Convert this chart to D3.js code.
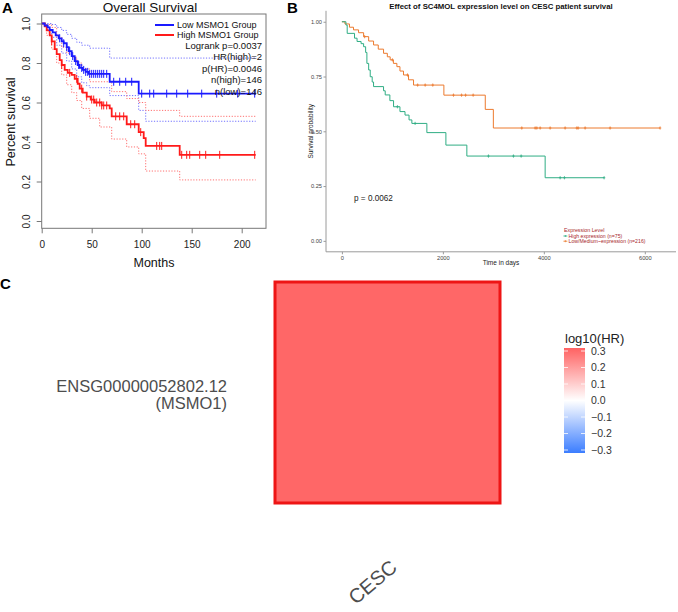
<!DOCTYPE html>
<html><head><meta charset="utf-8">
<script src="https://cdn.jsdelivr.net/npm/d3@7"></script>
<style>body{margin:0;background:#fff;} text{font-family:"Liberation Sans",Arial,sans-serif;}</style>
</head><body><svg id="c" width="678" height="612"></svg>
<script>
// ---------- Panel A data (GEPIA, months) ----------
const lowTimes = [0, 3, 6, 8, 11, 14, 17, 20, 22, 25, 27, 30, 33, 36, 38, 41, 44, 47, 68, 97];
const lowSurv  = [1.0, 0.99, 0.98, 0.967, 0.955, 0.94, 0.925, 0.91, 0.90, 0.88, 0.86, 0.835, 0.81, 0.79, 0.775, 0.765, 0.755, 0.745, 0.705, 0.645];
const lowEnd = 214;
const highTimes = [0, 3, 5, 8, 10, 13, 15, 18, 20, 23, 26, 30, 33, 36, 38, 41, 45, 49, 53, 60, 68, 70, 85, 97, 102, 104, 138];
const highSurv  = [1.0, 0.985, 0.965, 0.94, 0.91, 0.87, 0.845, 0.815, 0.79, 0.765, 0.75, 0.74, 0.72, 0.695, 0.67, 0.65, 0.63, 0.615, 0.60, 0.585, 0.57, 0.53, 0.49, 0.45, 0.42, 0.38, 0.335];
const highEnd = 214;
const lowUpT = [0, 5, 10, 15, 20, 25, 30, 35, 40, 48, 68];
const lowUpV = [1.0, 1.0, 0.995, 0.98, 0.965, 0.945, 0.925, 0.905, 0.89, 0.875, 0.825];
const lowLoT = [0, 5, 10, 15, 20, 25, 30, 35, 40, 45, 48, 68, 97, 104];
const lowLoV = [1.0, 0.97, 0.93, 0.89, 0.85, 0.81, 0.77, 0.73, 0.70, 0.685, 0.675, 0.635, 0.56, 0.505];
const highUpT = [0, 5, 10, 15, 20, 25, 30, 35, 40, 48, 70, 85, 97, 104, 138];
const highUpV = [1.0, 0.995, 0.98, 0.93, 0.88, 0.85, 0.83, 0.80, 0.77, 0.705, 0.655, 0.62, 0.60, 0.56, 0.53];
const highLoT = [0, 5, 10, 15, 20, 25, 30, 35, 40, 48, 58, 70, 85, 97, 104, 138];
const highLoV = [1.0, 0.94, 0.87, 0.80, 0.74, 0.69, 0.65, 0.61, 0.57, 0.52, 0.476, 0.415, 0.375, 0.34, 0.253, 0.208];
const lowCensor = [18, 22, 25, 28, 31, 34, 37, 40, 42, 44, 46, 48, 50, 52, 54, 56, 58, 60, 62, 65, 72, 78, 84, 90, 100, 108, 112, 125, 135, 146, 160, 175, 196, 213];
const highCensor = [10, 20, 28, 35, 40, 45, 50, 52, 55, 58, 60, 62, 65, 74, 78, 82, 89, 93, 99, 115, 118, 120, 140, 145, 148, 158, 164, 178, 213];
const yTicksA = [0, 0.2, 0.4, 0.6, 0.8, 1.0];
const xTicksA = [0, 50, 100, 150, 200];
const legendA = ["Low MSMO1 Group", "High MSMO1 Group"];
const statsA = ["Logrank p=0.0037", "HR(high)=2", "p(HR)=0.0046", "n(high)=146", "n(low)=146"];

// ---------- Panel B data (days) ----------
const hiDays = [0, 80, 105, 250, 300, 380, 430, 470, 495, 530, 561, 600, 627, 825, 858, 950, 1023, 1150, 1250, 1330, 1386, 1683, 2060, 2475, 4026];
const hiVals = [1.0, 0.985, 0.947, 0.925, 0.91, 0.90, 0.886, 0.86, 0.81, 0.78, 0.749, 0.725, 0.704, 0.685, 0.666, 0.64, 0.612, 0.59, 0.574, 0.552, 0.536, 0.494, 0.437, 0.387, 0.288];
const hiEnd = 5194;
const lmDays = [0, 60, 150, 230, 330, 430, 530, 627, 720, 825, 900, 956, 1020, 1089, 1150, 1220, 1320, 1419, 2020, 2840, 3000];
const lmVals = [1.0, 0.99, 0.975, 0.963, 0.95, 0.932, 0.912, 0.894, 0.875, 0.856, 0.84, 0.826, 0.81, 0.795, 0.775, 0.757, 0.735, 0.711, 0.665, 0.60, 0.515];
const lmEnd = 6303;
const hiCensor = [1100, 1450, 2903, 3398, 3551, 4323, 4408, 5194];
const lmCensor = [450, 1000, 1300, 1500, 1650, 1800, 2210, 2370, 2450, 2600, 3563, 3828, 3861, 3927, 4125, 4422, 4653, 4680, 4818, 5313, 6303];
const yTicksB = [0, 0.25, 0.5, 0.75, 1.0];
const xTicksB = [0, 2000, 4000, 6000];
const legendB = ["High expression (n=75)", "Low/Medium~expression (n=216)"];

// ---------- Panel C data ----------
const genes = ["ENSG00000052802.12"];
const geneSub = ["(MSMO1)"];
const cancers = ["CESC"];
const hrValues = [0.29];
const cbTicks = [0.3, 0.2, 0.1, 0.0, -0.1, -0.2, -0.3];

const svg = d3.select("#c");
svg.append("rect").attr("width", 678).attr("height", 612).attr("fill", "#fff");

function stepPts(t, v, end) { const p = t.map((d, i) => [d, v[i]]); p.push([end, v[v.length - 1]]); return p; }
function survAt(t, v, x) { let k = 0; for (let i = 0; i < t.length; i++) if (t[i] <= x) k = i; return v[k]; }

// ================= Panel A =================
const xA = d3.scaleLinear().domain([0, 200]).range([41.7, 241.7]);
const yA = d3.scaleLinear().domain([0, 1]).range([221, 23.5]);
const lineA = d3.line().x(d => xA(d[0])).y(d => yA(d[1])).curve(d3.curveStepAfter);
const gA = svg.append("g");
const blue = "#1a1aff", red = "#ff1a1a";

[[lowUpT, lowUpV, lowEnd, "#7070ff"], [lowLoT, lowLoV, lowEnd, "#7070ff"], [highUpT, highUpV, highEnd, "#ff7070"], [highLoT, highLoV, highEnd, "#ff7070"]].forEach(c => {
  gA.append("path").attr("d", lineA(stepPts(c[0], c[1], c[2]))).attr("fill", "none").attr("stroke", c[3]).attr("stroke-width", 1).attr("stroke-dasharray", "1.2,1.6");
});
gA.append("path").attr("d", lineA(stepPts(highTimes, highSurv, highEnd))).attr("fill", "none").attr("stroke", red).attr("stroke-width", 1.8);
gA.append("path").attr("d", lineA(stepPts(lowTimes, lowSurv, lowEnd))).attr("fill", "none").attr("stroke", blue).attr("stroke-width", 1.8);
gA.selectAll(".cl").data(lowCensor).join("line").attr("x1", d => xA(d)).attr("x2", d => xA(d))
  .attr("y1", d => yA(survAt(lowTimes, lowSurv, d)) - 4).attr("y2", d => yA(survAt(lowTimes, lowSurv, d)) + 4).attr("stroke", blue).attr("stroke-width", 1);
gA.selectAll(".ch").data(highCensor).join("line").attr("x1", d => xA(d)).attr("x2", d => xA(d))
  .attr("y1", d => yA(survAt(highTimes, highSurv, d)) - 4).attr("y2", d => yA(survAt(highTimes, highSurv, d)) + 4).attr("stroke", red).attr("stroke-width", 1);

gA.append("rect").attr("x", 41.7).attr("y", 14).attr("width", 224.3).attr("height", 214.3).attr("fill", "none").attr("stroke", "#777").attr("stroke-width", 1);

const ayA = gA.append("g").attr("transform", "translate(41.7,0)")
  .call(d3.axisLeft(yA).tickValues(yTicksA).tickFormat(d3.format(".1f")).tickSize(5));
ayA.select(".domain").remove();
ayA.selectAll("line").attr("stroke", "#777");
ayA.selectAll("text").attr("x", 0).attr("dy", null).attr("y", 0).attr("text-anchor", "middle")
  .attr("transform", "translate(-11.5,0) rotate(-90)").attr("font-size", 10).attr("fill", "#222").attr("font-family", null);
const axA = gA.append("g").attr("transform", "translate(0,228.3)")
  .call(d3.axisBottom(xA).tickValues(xTicksA).tickSize(5).tickPadding(8));
axA.select(".domain").remove();
axA.selectAll("line").attr("stroke", "#777");
axA.selectAll("text").attr("font-size", 10).attr("fill", "#222").attr("font-family", null);

gA.append("text").attr("x", 150).attr("y", 12).attr("text-anchor", "middle").attr("font-size", 13.5).attr("fill", "#111").text("Overall Survival");
gA.append("text").attr("x", 154).attr("y", 266.5).attr("text-anchor", "middle").attr("font-size", 12.5).attr("fill", "#111").text("Months");
gA.append("text").attr("transform", "translate(14.5,122) rotate(-90)").attr("text-anchor", "middle").attr("font-size", 12.5).attr("fill", "#111").text("Percent survival");
[blue, red].forEach((c, i) => {
  const y = 25 + i * 10;
  gA.append("line").attr("x1", 155).attr("x2", 174).attr("y1", y).attr("y2", y).attr("stroke", c).attr("stroke-width", 2);
  gA.append("text").attr("x", 177).attr("y", y + 3.2).attr("font-size", 9).attr("fill", "#111").text(legendA[i]);
});
statsA.forEach((s, i) => {
  gA.append("text").attr("x", 262).attr("y", 48.5 + i * 11.5).attr("text-anchor", "end").attr("font-size", 9.5).attr("fill", "#111").text(s);
});
svg.append("text").attr("x", 2).attr("y", 13).attr("font-size", 15).attr("font-weight", "bold").text("A");

// ================= Panel B =================
const xB = d3.scaleLinear().domain([-315, 6618]).range([326, 676]);
const yB = d3.scaleLinear().domain([-0.05, 1.05]).range([251.8, 10.8]);
const lineB = d3.line().x(d => xB(d[0])).y(d => yB(d[1])).curve(d3.curveStepAfter);
const gB = svg.append("g");
const teal = "#2fad84", orange = "#ec7a2e";
gB.append("path").attr("d", lineB(stepPts(lmDays, lmVals, lmEnd))).attr("fill", "none").attr("stroke", orange).attr("stroke-width", 1);
gB.append("path").attr("d", lineB(stepPts(hiDays, hiVals, hiEnd))).attr("fill", "none").attr("stroke", teal).attr("stroke-width", 1);
function plus(g, x, y, c) {
  g.append("line").attr("x1", x).attr("x2", x).attr("y1", y - 1.6).attr("y2", y + 1.6).attr("stroke", c).attr("stroke-width", 0.8);
  g.append("line").attr("x1", x - 1.2).attr("x2", x + 1.2).attr("y1", y).attr("y2", y).attr("stroke", c).attr("stroke-width", 0.8);
}
lmCensor.forEach(d => plus(gB, xB(d), yB(survAt(lmDays, lmVals, d)), orange));
hiCensor.forEach(d => plus(gB, xB(d), yB(survAt(hiDays, hiVals, d)), teal));

const ayB = gB.append("g").attr("transform", "translate(326,0)")
  .call(d3.axisLeft(yB).tickValues(yTicksB).tickFormat(d3.format(".2f")).tickSize(2.5).tickPadding(1.5));
ayB.select(".domain").attr("stroke", "#9a9a9a").attr("d", "M0,10.8V251.8");
ayB.selectAll("line").attr("stroke", "#9a9a9a");
ayB.selectAll("text").attr("font-size", 5.7).attr("fill", "#444").attr("font-family", null);
const axB = gB.append("g").attr("transform", "translate(0,251.8)")
  .call(d3.axisBottom(xB).tickValues(xTicksB).tickFormat(d3.format("d")).tickSize(2.5).tickPadding(1.5));
axB.select(".domain").attr("stroke", "#9a9a9a").attr("d", "M326,0H676");
axB.selectAll("line").attr("stroke", "#9a9a9a");
axB.selectAll("text").attr("font-size", 5.7).attr("fill", "#444").attr("font-family", null);

gB.append("text").attr("x", 501).attr("y", 9).attr("text-anchor", "middle").attr("font-size", 7.8).attr("font-weight", "bold").attr("fill", "#111")
  .text("Effect of SC4MOL expression level on CESC patient survival");
gB.append("text").attr("x", 501).attr("y", 265).attr("text-anchor", "middle").attr("font-size", 6.5).attr("fill", "#222").text("Time in days");
gB.append("text").attr("transform", "translate(312.5,131.3) rotate(-90)").attr("text-anchor", "middle").attr("font-size", 6.5).attr("fill", "#222").text("Survival probability");
gB.append("text").attr("x", 354).attr("y", 201).attr("font-size", 8.2).attr("fill", "#222").text("p = 0.0062");
const legCol = "#a8282c";
gB.append("text").attr("x", 564).attr("y", 231.5).attr("font-size", 5.3).attr("fill", legCol).text("Expression Level");
[teal, orange].forEach((c, i) => {
  const y = 236 + i * 5.2;
  gB.append("line").attr("x1", 563.5).attr("x2", 567.3).attr("y1", y).attr("y2", y).attr("stroke", c).attr("stroke-width", 0.9);
  gB.append("line").attr("x1", 565.4).attr("x2", 565.4).attr("y1", y - 1).attr("y2", y + 1).attr("stroke", c).attr("stroke-width", 0.7);
  gB.append("text").attr("x", 568.5).attr("y", y + 1.8).attr("font-size", 5.2).attr("fill", legCol).text(legendB[i]);
});
svg.append("text").attr("x", 287).attr("y", 13).attr("font-size", 15).attr("font-weight", "bold").text("B");

// ================= Panel C =================
const gC = svg.append("g");
const xC = d3.scaleBand().domain(cancers).range([275, 500]);
const yC = d3.scaleBand().domain(genes).range([282, 503]);
const col = d3.scaleLinear().domain([-0.3, 0, 0.3]).range(["#3b7dff", "#ffffff", "#ff6262"]);
gC.selectAll(".cell").data(hrValues).join("rect")
  .attr("x", (d, i) => xC(cancers[i])).attr("y", yC(genes[0])).attr("width", xC.bandwidth()).attr("height", yC.bandwidth())
  .attr("fill", d => col(d)).attr("stroke", "#ee1515").attr("stroke-width", 3);
gC.append("text").attr("x", 227).attr("y", 391.5).attr("text-anchor", "end").attr("font-size", 16.5).attr("fill", "#4d4d4d").text(genes[0]);
gC.append("text").attr("x", 227).attr("y", 409).attr("text-anchor", "end").attr("font-size", 16.5).attr("fill", "#4d4d4d").text(geneSub[0]);
gC.append("text").attr("transform", `translate(${xC(cancers[0]) + xC.bandwidth() / 2 - 15},582) rotate(-40)`)
  .attr("text-anchor", "middle").attr("dominant-baseline", "central").attr("font-size", 20).attr("fill", "#4d4d4d").text(cancers[0]);

// colour bar
const cbY = d3.scaleLinear().domain([0.3, -0.3]).range([351, 450]);
const defs = svg.append("defs");
const grad = defs.append("linearGradient").attr("id", "cbg").attr("x1", 0).attr("x2", 0).attr("y1", 0).attr("y2", 1);
d3.range(0, 1.0001, 0.1).forEach(f => {
  const v = 0.3 - f * 0.6;
  grad.append("stop").attr("offset", f).attr("stop-color", col(v));
});
gC.append("rect").attr("x", 564).attr("y", cbY(0.3) - 3).attr("width", 21).attr("height", cbY(-0.3) - cbY(0.3) + 6).attr("fill", "url(#cbg)");
cbTicks.forEach(t => {
  const y = cbY(t);
  gC.append("line").attr("x1", 564).attr("x2", 568).attr("y1", y).attr("y2", y).attr("stroke", "#fff").attr("stroke-width", 0.8);
  gC.append("line").attr("x1", 581).attr("x2", 585).attr("y1", y).attr("y2", y).attr("stroke", "#fff").attr("stroke-width", 0.8);
  gC.append("text").attr("x", 591).attr("y", y + 3.8).attr("font-size", 10.5).attr("fill", "#333").text(d3.format(".1f")(t).replace("-", "\u2212"));
});
gC.append("text").attr("x", 565).attr("y", 343).attr("font-size", 13).attr("fill", "#222").text("log10(HR)");
svg.append("text").attr("x", 0).attr("y", 288.5).attr("font-size", 15).attr("font-weight", "bold").text("C");
</script></body></html>
